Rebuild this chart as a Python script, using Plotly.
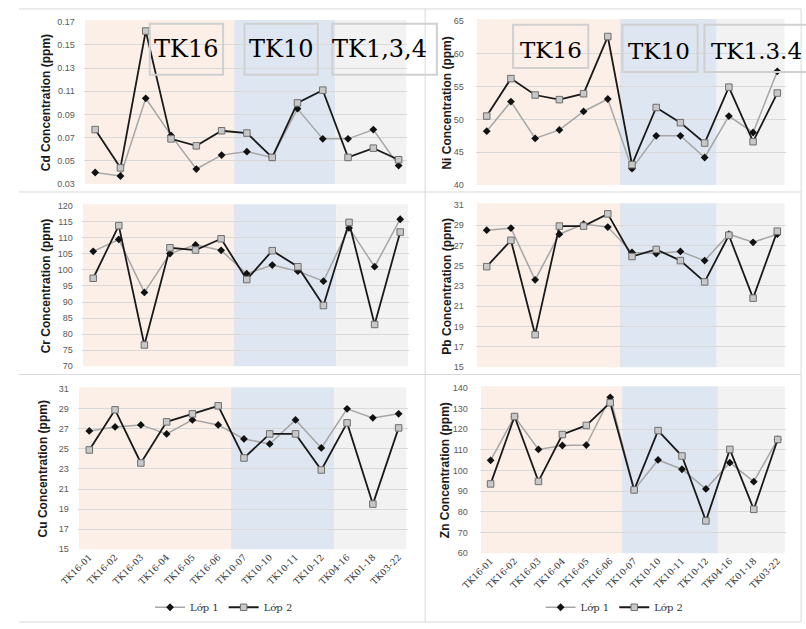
import plotly.graph_objects as go

categories = ["TK16-01", "TK16-02", "TK16-03", "TK16-04", "TK16-05", "TK16-06",
              "TK10-07", "TK10-10", "TK10-11", "TK10-12", "TK04-16", "TK01-18", "TK03-22"]
series_names = ["Lớp 1", "Lớp 2"]
group_labels_left = ["TK16", "TK10", "TK1,3,4"]
group_labels_right = ["TK16", "TK10", "TK1.3.4"]

cd_lop1 = [0.040, 0.037, 0.104, 0.072, 0.043, 0.055, 0.058, 0.053, 0.095, 0.069, 0.069, 0.077, 0.046]
cd_lop2 = [0.077, 0.044, 0.162, 0.069, 0.063, 0.076, 0.074, 0.053, 0.100, 0.111, 0.053, 0.061, 0.051]

ni_lop1 = [48.2, 52.7, 47.1, 48.4, 51.2, 53.1, 42.5, 47.5, 47.5, 44.2, 50.5, 48.0, 57.3]
ni_lop2 = [50.5, 56.2, 53.7, 53.0, 53.9, 62.6, 43.1, 51.8, 49.5, 46.4, 54.9, 46.6, 54.0]

cr_lop1 = [105.8, 109.5, 93.0, 105.1, 107.8, 106.1, 98.8, 101.5, 99.6, 96.5, 113.1, 101.0, 115.8]
cr_lop2 = [97.4, 113.8, 76.6, 106.9, 106.2, 109.7, 97.0, 106.0, 101.0, 88.9, 114.8, 83.0, 111.8]

pb_lop1 = [28.5, 28.7, 23.6, 28.1, 29.1, 28.8, 26.3, 26.2, 26.4, 25.5, 28.1, 27.3, 28.1]
pb_lop2 = [24.9, 27.5, 18.2, 28.9, 28.9, 30.1, 25.9, 26.6, 25.5, 23.4, 28.0, 21.8, 28.4]

cu_lop1 = [26.8, 27.2, 27.4, 26.5, 27.9, 27.4, 26.0, 25.5, 27.9, 25.1, 29.0, 28.1, 28.5]
cu_lop2 = [24.9, 28.9, 23.6, 27.7, 28.5, 29.3, 24.1, 26.5, 26.5, 22.9, 27.6, 19.5, 27.1]

zn_lop1 = [104.9, 126.1, 110.2, 112.1, 112.3, 135.4, 90.6, 105.1, 100.6, 91.1, 103.8, 94.6, 115.0]
zn_lop2 = [93.5, 126.1, 94.7, 117.4, 121.8, 132.8, 90.6, 119.3, 107.0, 75.6, 110.2, 81.2, 115.0]

W, H = 806, 629
SERIF = "DejaVu Serif"
SANS = "Liberation Sans"


def px(p):
    return p / W


def py(p):
    return 1 - p / H


XR = [-0.45, 12.35]

panels = [
    dict(title="Cd Concentration (ppm)", a=cd_lop1, b=cd_lop2, yr=[0.03, 0.17], dt=0.02, fmt=".2f",
         first=78, sp=25.9, top=17, bot=182, tx=28, xlab=False, leg=None),
    dict(title="Ni Concentration (ppm)", a=ni_lop1, b=ni_lop2, yr=[40, 65], dt=5, fmt="d",
         first=479, sp=24.8, top=16, bot=183, tx=438, xlab=False, leg=None),
    dict(title="Cr Concentration (ppm)", a=cr_lop1, b=cr_lop2, yr=[70, 120], dt=5, fmt="d",
         first=76, sp=26.2, top=204, bot=367, tx=28, xlab=False, leg=None),
    dict(title="Pb Concentration (ppm)", a=pb_lop1, b=pb_lop2, yr=[15, 31], dt=2, fmt="d",
         first=479, sp=24.8, top=203, bot=368, tx=438, xlab=False, leg=None),
    dict(title="Cu Concentration (ppm)", a=cu_lop1, b=cu_lop2, yr=[15, 31], dt=2, fmt="d",
         first=72, sp=26.4, top=390, bot=553, tx=25, xlab=True, leg="legend"),
    dict(title="Zn Concentration (ppm)", a=zn_lop1, b=zn_lop2, yr=[60, 140], dt=10, fmt="d",
         first=483, sp=24.5, top=389, bot=557, tx=437, xlab=True, leg="legend2"),
]

fig = go.Figure()
shapes = []
annotations = []
layout = {}

band_colors = ["#fbefe7", "#dde6f1", "#f2f2f2"]
band_edges = [(-0.4, 5.5), (5.5, 9.5), (9.5, 12.3)]

for i, p in enumerate(panels):
    n = i + 1
    xa = "x" if n == 1 else f"x{n}"
    ya = "y" if n == 1 else f"y{n}"
    xkey = "xaxis" if n == 1 else f"xaxis{n}"
    ykey = "yaxis" if n == 1 else f"yaxis{n}"
    left = p["first"] + XR[0] * p["sp"]
    right = p["first"] + XR[1] * p["sp"]
    layout[xkey] = dict(
        domain=[px(left), px(right)], range=XR, anchor=ya, type="category",
        categoryorder="array", categoryarray=categories,
        showgrid=False, zeroline=False, showline=False, ticks="",
        showticklabels=p["xlab"], tickangle=-45,
        tickfont=dict(family=SERIF, size=9, color="#333333"),
    )
    layout[ykey] = dict(
        domain=[py(p["bot"]), py(p["top"])], range=p["yr"], anchor=xa,
        dtick=p["dt"], tick0=p["yr"][0], tickformat=p["fmt"],
        showgrid=True, gridcolor="#d9d9d9", gridwidth=1, zeroline=False, showline=False,
        ticks="", ticklabelstandoff=8 if p["tx"] < 200 else 11,
        tickfont=dict(family=SANS, size=9, color="#595959"),
    )
    for (x0, x1), c in zip(band_edges, band_colors):
        shapes.append(dict(type="rect", xref=xa, yref=f"{ya} domain", x0=x0, x1=x1, y0=0, y1=1.01,
                           fillcolor=c, line=dict(width=0), layer="below"))
    showleg = p["leg"] is not None
    fig.add_trace(go.Scatter(
        x=categories, y=p["a"], xaxis=xa, yaxis=ya, mode="lines+markers", name=series_names[0],
        line=dict(color="#a6a6a6", width=1.5),
        marker=dict(symbol="diamond", size=6, color="#111111"),
        showlegend=showleg, legend=p["leg"] if showleg else "legend"))
    fig.add_trace(go.Scatter(
        x=categories, y=p["b"], xaxis=xa, yaxis=ya, mode="lines+markers", name=series_names[1],
        line=dict(color="#1a1a1a", width=1.8),
        marker=dict(symbol="square", size=6.5, color="#c8c8c8", line=dict(color="#6f6f6f", width=1)),
        showlegend=showleg, legend=p["leg"] if showleg else "legend"))
    annotations.append(dict(text=f"<b>{p['title']}</b>", textangle=-90, xref="paper", yref="paper",
                            x=px(p["tx"]), y=py((p["top"] + p["bot"]) / 2), xanchor="center",
                            yanchor="middle", showarrow=False,
                            font=dict(family=SANS, size=12, color="#1a1a1a")))

# group label boxes (top row)
boxes = [
    (134, 209, 19, 71, group_labels_left[0], 171, 45, 24),
    (231, 306, 19, 71, group_labels_left[1], 268, 45, 24),
    (321, 428, 19, 71, group_labels_left[2], 369, 45, 24),
    (506, 583, 20, 64, group_labels_right[0], 545, 46, 23),
    (618, 695, 20, 68, group_labels_right[1], 655, 47, 23),
    (702, 812, 20, 68, group_labels_right[2], 755, 47, 23),
]
for x0, x1, y0, y1, lab, cx, cy, fs in boxes:
    shapes.append(dict(type="rect", xref="paper", yref="paper", x0=px(x0), x1=px(x1),
                       y0=py(y1), y1=py(y0), line=dict(color="#d0d0d0", width=2),
                       fillcolor="rgba(0,0,0,0)", layer="above"))
    annotations.append(dict(text=lab, xref="paper", yref="paper", x=px(cx), y=py(cy),
                            xanchor="center", yanchor="middle", showarrow=False,
                            font=dict(family=SERIF, size=fs, color="#000000")))

# panel borders
border = dict(color="#d9d9d9", width=1)
for yy in [4, 190, 375.5, 627]:
    shapes.append(dict(type="line", xref="paper", yref="paper", x0=0, x1=px(801), y0=py(yy), y1=py(yy),
                       line=border, layer="below"))
for xx in [416, 801]:
    shapes.append(dict(type="line", xref="paper", yref="paper", x0=px(xx), x1=px(xx), y0=py(627), y1=py(4),
                       line=border, layer="below"))

leg_common = dict(orientation="h", yanchor="middle", xanchor="center", bgcolor="rgba(0,0,0,0)",
                  font=dict(family=SERIF, size=10, color="#333333"), itemwidth=30,
                  tracegroupgap=0)

fig.update_layout(
    width=W, height=H, margin=dict(l=0, r=0, t=0, b=0),
    paper_bgcolor="white", plot_bgcolor="rgba(0,0,0,0)",
    shapes=shapes, annotations=annotations,
    legend=dict(x=px(210), y=py(612), **leg_common),
    legend2=dict(x=px(610), y=py(612), **leg_common),
    **layout,
)

fig.write_html("out.html")
